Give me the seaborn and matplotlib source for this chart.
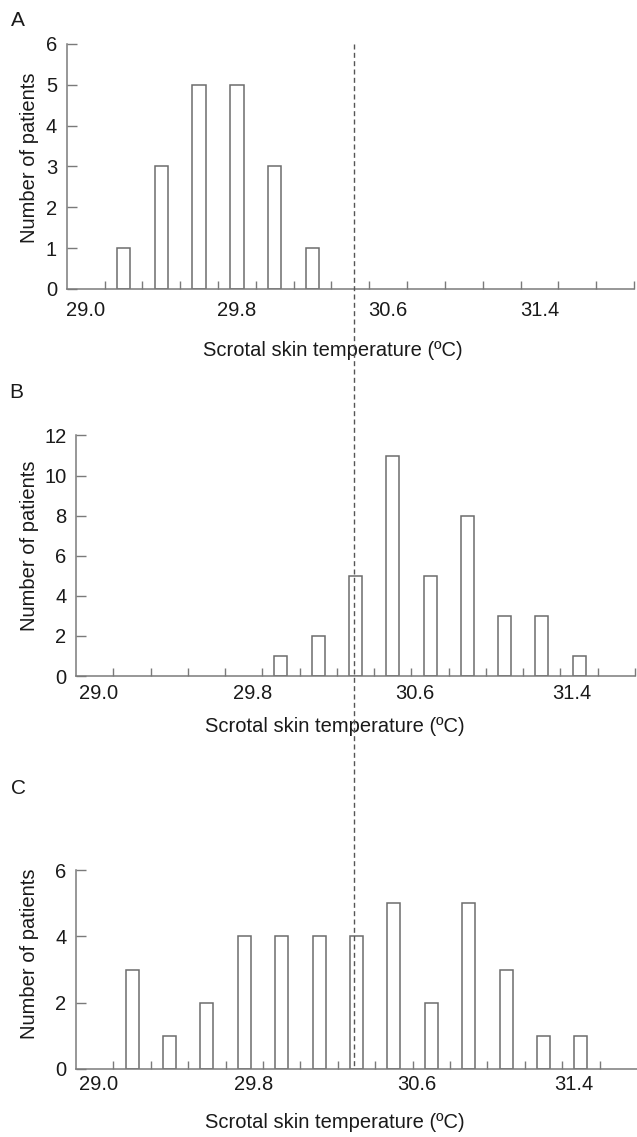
import matplotlib
matplotlib.use('Agg')
import matplotlib.pyplot as plt
from matplotlib.lines import Line2D
import numpy as np
import seaborn as sns

# 0.2 ºC bins: bin centre -> number of patients
temps_a = [29.2, 29.4, 29.6, 29.8, 30.0, 30.2]
counts_a = [1, 3, 5, 5, 3, 1]

temps_b = [30.0, 30.2, 30.4, 30.6, 30.8, 31.0, 31.2, 31.4, 31.6]
counts_b = [1, 2, 5, 11, 5, 8, 3, 3, 1]

temps_c = [29.2, 29.4, 29.6, 29.8, 30.0, 30.2, 30.4, 30.6, 30.8, 31.0, 31.2, 31.4, 31.6]
counts_c = [3, 1, 2, 4, 4, 4, 4, 5, 2, 5, 3, 1, 1]

tick_labels = ['29.0', '29.8', '30.6', '31.4']
cutoff = 30.42

sns.set_style('ticks')
plt.rcParams['font.family'] = ['Liberation Sans', 'DejaVu Sans']
plt.rcParams['font.size'] = 14.5

GREY = '#7a7a7a'
EDGE = '#6c6c6c'
TXT = '#1a1a1a'
W, H = 637, 1137

fig = plt.figure(figsize=(6.37, 11.37), dpi=100)


def add_box(left, top, right, bottom):
    # axes box given in pixels of the final image
    return fig.add_axes([left / W, 1 - bottom / H, (right - left) / W, (bottom - top) / H])


def draw_panel(ax, temps, counts, ymax, ystep, label_pos, edges, xpad, xlab_xy, ylab_xy):
    sns.barplot(x=temps, y=counts, native_scale=True, width=0.35, color='white',
                edgecolor=EDGE, linewidth=1.1, saturation=1, errorbar=None, ax=ax)
    ax.set_xlim(28.9, 31.9)
    ax.set_ylim(0, ymax)
    ax.set_yticks(np.arange(0, ymax + 0.1, ystep))
    ax.set_xticks(label_pos)
    ax.set_xticklabels(tick_labels)
    ax.set_xticks(edges, minor=True)
    ax.tick_params(axis='x', which='major', length=0, pad=xpad, labelsize=14.5, labelcolor=TXT)
    ax.tick_params(axis='x', which='minor', direction='in', length=6, width=1, color=GREY)
    ax.tick_params(axis='y', direction='in', length=7, width=1, color=GREY, pad=7,
                   labelsize=14.5, labelcolor=TXT)
    sns.despine(ax=ax)
    for s in ['left', 'bottom']:
        ax.spines[s].set_color(GREY)
        ax.spines[s].set_linewidth(1.1)
    ax.set_xlabel('Scrotal skin temperature (ºC)', fontsize=14.5, color=TXT)
    ax.xaxis.set_label_coords(*xlab_xy)
    ax.xaxis.label.set_verticalalignment('center')
    ax.set_ylabel('Number of patients', fontsize=14.5, color=TXT)
    ax.yaxis.set_label_coords(*ylab_xy)
    ax.yaxis.label.set_verticalalignment('center')


edges_full = np.round(np.arange(29.1, 31.95, 0.2), 1)
edges_c = np.round(np.arange(29.1, 31.75, 0.2), 1)
pos_a = [29.0, 29.8, 30.6, 31.4]
pos_bc = [29.02, 29.85, 30.72, 31.56]

ax_a = add_box(66.7, 44, 634, 289)
draw_panel(ax_a, temps_a, counts_a, 6, 1, pos_a, edges_full, 9,
           (0.469, -0.249), (-0.0647, 0.537))

ax_b = add_box(76, 435.5, 635, 676)
draw_panel(ax_b, temps_b, counts_b, 12, 2, pos_bc, edges_full, 6,
           (0.463, -0.212), (-0.0823, 0.543))

ax_c = add_box(76, 870, 637, 1069)
draw_panel(ax_c, temps_c, counts_c, 6, 2, pos_bc, edges_c, 4.5,
           (0.462, -0.271), (-0.082, 0.578))

# panel letters
for letter, (px, py) in zip(['A', 'B', 'C'], [(18, 20), (16, 393), (18, 788)]):
    fig.text(px / W, 1 - py / H, letter, fontsize=15, color=TXT, ha='center', va='center')

# dashed cut-off line running through all three panels
to_fig = fig.transFigure.inverted()
x_top, y_top = to_fig.transform(ax_a.transData.transform((cutoff, 6)))
_, y_bot = to_fig.transform(ax_c.transData.transform((cutoff, 0)))
fig.add_artist(Line2D([x_top, x_top], [y_top, y_bot], transform=fig.transFigure,
                      color='#555555', lw=1.0, ls=(0, (3.6, 2.4))))

fig.savefig('out.png', dpi=100)
